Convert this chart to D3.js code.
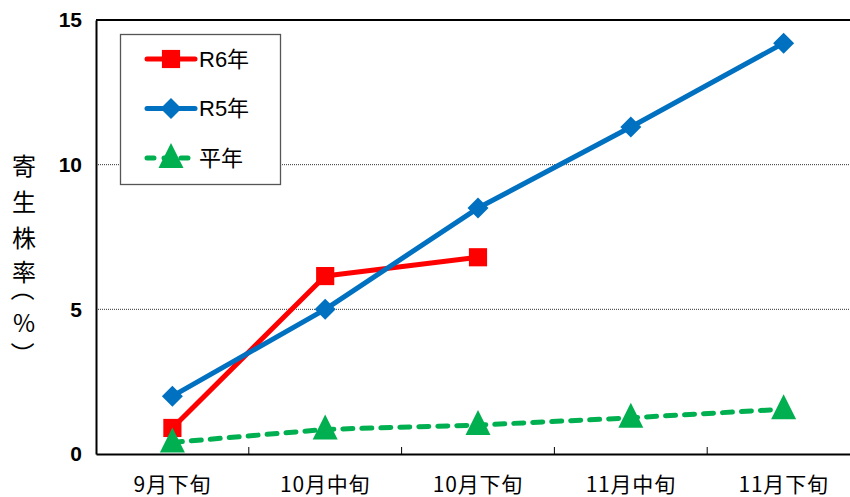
<!DOCTYPE html>
<html>
<head>
<meta charset="utf-8">
<script src="https://cdn.jsdelivr.net/npm/d3@7"></script>
<style>
  html, body { margin: 0; padding: 0; background: #fff; }
  svg { display: block; }
  text { font-family: "Liberation Sans", Arial, "Noto Sans CJK JP", sans-serif; }
</style>
</head>
<body>
<svg id="chart" width="850" height="497"></svg>
<script>
// Survey periods
const categories = ["9月下旬", "10月中旬", "10月下旬", "11月中旬", "11月下旬"];
// Parasitized plant rate (%) per season
const r6Values = [0.9, 6.15, 6.8];
const r5Values = [2.0, 5.0, 8.5, 11.3, 14.2];
const normalValues = [0.4, 0.85, 1.0, 1.25, 1.55];
const yTicks = [0, 5, 10, 15];
const yLabel = ["寄", "生", "株", "率", "（", "%", "）"];

const series = [
  { name: "R6年", values: r6Values, color: "#FF0000", marker: "square", dash: null },
  { name: "R5年", values: r5Values, color: "#0070C0", marker: "diamond", dash: null },
  { name: "平年", values: normalValues, color: "#00B050", marker: "triangle", dash: "10,9" }
];

const svg = d3.select("#chart");
const margin = { left: 96, top: 20, bottom: 454 };
const plotRight = 860;

const x = d3.scaleBand().domain(categories).range([margin.left, plotRight]);
const y = d3.scaleLinear().domain([0, 15]).range([margin.bottom, margin.top]);
const cx = d => x(d) + x.bandwidth() / 2;

// Dotted gridlines
svg.append("g").selectAll("line")
  .data(yTicks.filter(t => t > 0 && t < 15))
  .join("line")
  .attr("x1", margin.left).attr("x2", plotRight)
  .attr("y1", d => y(d)).attr("y2", d => y(d))
  .attr("stroke", "#333").attr("stroke-width", 1).attr("stroke-dasharray", "1,1");

// Top border of plot area
svg.append("line")
  .attr("x1", margin.left).attr("x2", plotRight)
  .attr("y1", y(15)).attr("y2", y(15))
  .attr("stroke", "#000").attr("stroke-width", 2);

// Y axis
const yAxis = svg.append("g")
  .attr("transform", `translate(${margin.left},0)`)
  .call(d3.axisLeft(y).tickValues(yTicks).tickSize(0).tickPadding(14));
yAxis.select(".domain").attr("stroke", "#000").attr("stroke-width", 2);
yAxis.selectAll("text")
  .attr("font-size", 21).attr("font-weight", "bold").attr("fill", "#000");

// X axis with inward ticks at category boundaries
const xAxis = svg.append("g")
  .attr("transform", `translate(0,${margin.bottom})`)
  .call(d3.axisBottom(x).tickSize(0));
xAxis.select(".domain").attr("stroke", "#000").attr("stroke-width", 2);
xAxis.selectAll("text")
  .attr("y", 30).attr("dy", "0.36em")
  .attr("font-size", 21).attr("letter-spacing", 0.8).attr("fill", "#000")
  .style("font-family", "'Noto Sans CJK JP', sans-serif");
svg.append("g").selectAll("line")
  .data(categories.slice(1))
  .join("line")
  .attr("x1", d => x(d)).attr("x2", d => x(d))
  .attr("y1", margin.bottom).attr("y2", margin.bottom - 7)
  .attr("stroke", "#000").attr("stroke-width", 1);

// Y axis title, stacked vertically; brackets turned to lie across the column
const titlePos = [164, 200, 236, 270, 297, 321, 346];
const yTitle = svg.append("g").attr("transform", "translate(24,0)");
yLabel.forEach((ch, i) => {
  const yy = titlePos[i];
  const isOpen = ch === "（", isClose = ch === "）";
  const t = yTitle.append("text")
    .attr("x", isOpen ? -8 : isClose ? 8 : 0).attr("y", yy)
    .attr("text-anchor", "middle").attr("dominant-baseline", "central")
    .attr("font-size", 24).attr("fill", "#000")
    .style("font-family", "'Noto Sans CJK JP', sans-serif")
    .text(ch);
  if (isOpen || isClose) t.attr("transform", `rotate(90,0,${yy})`);
});

// Marker shapes
function markerPath(type) {
  if (type === "square") return d3.symbol(d3.symbolSquare, 330)();
  if (type === "diamond") return "M0,-10.5L10.5,0L0,10.5L-10.5,0Z";
  return "M0,-15L12.5,10L-12.5,10Z";
}

const line = d3.line().x((d, i) => cx(categories[i])).y(d => y(d));

series.forEach(s => {
  const g = svg.append("g");
  g.append("path")
    .datum(s.values)
    .attr("d", line)
    .attr("fill", "none")
    .attr("stroke", s.color)
    .attr("stroke-width", 5)
    .attr("stroke-linecap", s.dash ? "round" : "butt")
    .attr("stroke-linejoin", "round")
    .attr("stroke-dasharray", s.dash);
  g.selectAll("path.marker")
    .data(s.values)
    .join("path")
    .attr("class", "marker")
    .attr("transform", (d, i) => `translate(${cx(categories[i])},${y(d)})`)
    .attr("d", markerPath(s.marker))
    .attr("fill", s.color);
});

// Legend
const legend = svg.append("g");
legend.append("rect")
  .attr("x", 120.5).attr("y", 34.5).attr("width", 160).attr("height", 150)
  .attr("fill", "#fff").attr("stroke", "#555").attr("stroke-width", 1.3);
series.forEach((s, i) => {
  const ly = 59 + i * 49.5;
  legend.append("line")
    .attr("x1", 147).attr("x2", 195).attr("y1", ly).attr("y2", ly)
    .attr("stroke", s.color).attr("stroke-width", 5)
    .attr("stroke-linecap", "round")
    .attr("stroke-dasharray", s.dash ? "7,10" : null);
  legend.append("path")
    .attr("transform", `translate(171,${ly})`)
    .attr("d", markerPath(s.marker))
    .attr("fill", s.color);
  legend.append("text")
    .attr("x", 199).attr("y", ly).attr("dominant-baseline", "central")
    .attr("font-size", 22).attr("fill", "#000")
    .text(s.name);
});
</script>
</body>
</html>
